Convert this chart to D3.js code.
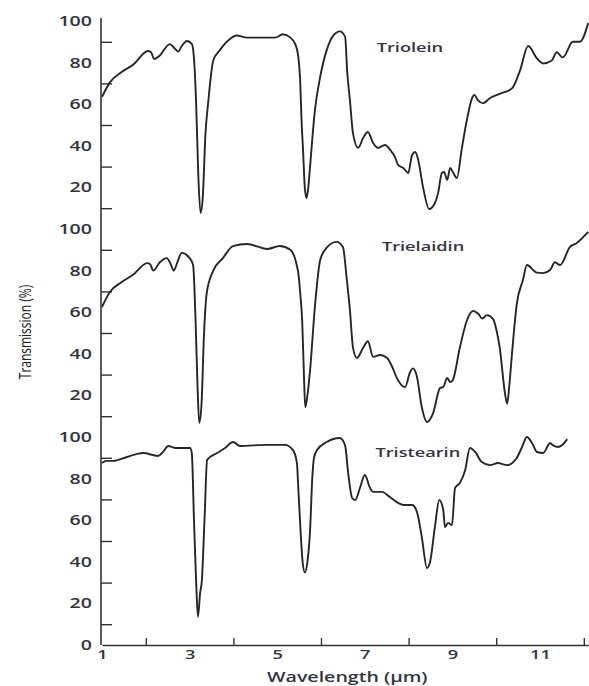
<!DOCTYPE html>
<html>
<head>
<meta charset="utf-8">
<script src="https://cdn.jsdelivr.net/npm/d3@7"></script>
<style>
  body { margin: 0; background: #fff; }
  svg { display: block; }
  text { font-family: "Open Sans", "Noto Sans", sans-serif; fill: #34343f; }
</style>
</head>
<body>
<div id="chart"></div>
<script>
// spectra: [wavelength (um), transmission (%)]
var triolein = [[1.0,63.5],[1.18,70.5],[1.45,75.5],[1.71,79],[2.05,85.6],[2.12,85],[2.19,81.7],[2.3,83],[2.55,88.9],[2.65,87],[2.74,85.3],[2.82,88],[2.94,90.4],[3.05,89],[3.1,82],[3.15,60],[3.2,25],[3.25,7.7],[3.3,15],[3.36,45],[3.43,62],[3.54,81],[3.69,86],[3.9,91],[4.08,93],[4.31,92],[4.76,92],[4.95,92],[5.13,93.6],[5.3,92],[5.41,89],[5.48,83],[5.52,73],[5.56,50],[5.59,38],[5.63,20],[5.67,14.8],[5.71,20],[5.75,30],[5.86,57],[5.98,73],[6.13,86],[6.28,93],[6.43,95],[6.55,92.5],[6.6,75],[6.66,62],[6.73,46],[6.85,39],[6.96,43.7],[7.07,46.6],[7.19,41.3],[7.3,39],[7.46,40.4],[7.58,38],[7.69,34.6],[7.76,30.8],[7.88,29.3],[7.99,26.9],[8.08,35.6],[8.15,37],[8.21,34],[8.33,20],[8.47,9.6],[8.6,12.5],[8.67,17],[8.76,26.9],[8.81,27.4],[8.88,23.6],[8.95,29.3],[9.01,27.4],[9.1,24.5],[9.22,39.4],[9.33,52.4],[9.45,63],[9.5,64.5],[9.58,62],[9.7,60.5],[9.86,63],[10.08,65],[10.36,67.6],[10.54,76],[10.73,88],[10.93,82],[11.07,79.6],[11.27,81],[11.38,85],[11.52,82.5],[11.75,90],[11.91,90],[12.1,99]];

var trielaidin = [[1.0,62.5],[1.18,69.7],[1.45,74.5],[1.71,78],[2.03,83.6],[2.1,83],[2.17,80],[2.32,84],[2.48,86],[2.57,83],[2.64,80],[2.72,84],[2.82,88.5],[3.0,86],[3.08,82.7],[3.13,60],[3.18,25],[3.22,6.7],[3.27,15],[3.33,50],[3.39,69],[3.54,80],[3.76,86],[3.99,91.8],[4.31,92.8],[4.77,90.4],[5.06,91.8],[5.3,90],[5.48,79],[5.53,68],[5.57,56],[5.61,30],[5.64,14.4],[5.69,20],[5.75,32],[5.86,62.5],[5.98,85],[6.13,91],[6.36,93.8],[6.5,91.3],[6.59,75.5],[6.66,61],[6.73,43],[6.82,38],[6.96,42.8],[7.07,46],[7.19,38.5],[7.35,39.4],[7.51,38],[7.64,33],[7.73,28.4],[7.92,24],[8.03,31],[8.1,33],[8.19,29],[8.3,14.4],[8.42,7.2],[8.56,11.5],[8.72,23.6],[8.79,24],[8.88,28.4],[8.95,26.4],[9.01,27.4],[9.17,43],[9.33,56],[9.47,60.6],[9.6,59],[9.68,57],[9.79,58.6],[9.93,56.7],[10.02,50],[10.08,43],[10.2,21],[10.25,16],[10.3,25],[10.36,40],[10.47,64],[10.61,75.5],[10.7,82.7],[10.93,79],[11.07,78.8],[11.23,80.3],[11.34,84],[11.46,82.7],[11.68,91.3],[11.84,93.3],[12.1,98.6]];

var tristearin = [[1.0,87.5],[1.1,88.5],[1.25,88.5],[1.57,90.4],[1.94,92.3],[2.28,90.9],[2.4,93],[2.51,95.7],[2.67,94.7],[3.01,94.7],[3.05,92.3],[3.1,60],[3.15,30],[3.19,13.5],[3.24,25],[3.28,31],[3.34,60],[3.4,89],[3.63,92.3],[3.81,94.7],[3.99,97.6],[4.15,95.7],[4.77,96.2],[5.18,96.2],[5.36,93.7],[5.45,87.5],[5.48,76],[5.52,60],[5.58,40],[5.63,35],[5.69,40],[5.75,55],[5.8,80],[5.84,90],[5.91,93.7],[6.13,97.6],[6.43,99.5],[6.55,96],[6.62,82.7],[6.71,70.7],[6.78,69.7],[6.89,75.5],[7.0,81.7],[7.12,75.5],[7.19,73.6],[7.39,73.6],[7.58,71],[7.76,68.3],[7.88,67.3],[8.08,67.3],[8.19,64],[8.3,52],[8.42,37],[8.49,40],[8.6,56.7],[8.7,69.7],[8.79,65],[8.83,56.7],[8.9,58.7],[8.99,57.7],[9.06,75.5],[9.17,77.9],[9.29,84],[9.4,94.7],[9.52,92.8],[9.67,88],[9.86,86.5],[10.04,87.5],[10.25,86.5],[10.47,90],[10.59,95.2],[10.7,100],[10.82,97],[10.93,92.8],[11.07,92.3],[11.23,97],[11.3,96],[11.41,95.2],[11.5,96],[11.62,99]];

var names = ["Triolein", "Trielaidin", "Tristearin"];
var xTickMarks = [2, 4, 6, 8, 10, 12];
var xTickLabels = [1, 3, 5, 7, 9, 11];
var yTickMarks = [10, 30, 50, 70, 90];
var yTickLabels = [20, 40, 60, 80, 100];

var w = 589, h = 686,
    left = 102, right = 588.2,
    panelH = 208,
    bottoms = [229, 437, 645],
    sx = 1.4; // the printed figure is stretched sideways

var svg = d3.select("#chart").append("svg")
    .attr("width", w)
    .attr("height", h);

var x = d3.scaleLinear().domain([1, 12.1]).range([left, right]);

var spectra = [triolein, trielaidin, tristearin];
var labelAt = [[8.03, 87.5], [8.33, 91.8], [8.21, 92.8]];

spectra.forEach(function (data, i) {
    var y = d3.scaleLinear().domain([0, 100]).range([bottoms[i], bottoms[i] - panelH]);

    // inward ticks on the left axis
    var tickAxis = d3.axisRight(y).tickValues(yTickMarks).tickSize(11).tickFormat("");
    var g = svg.append("g")
        .attr("transform", "translate(" + (left - 1) + ",0)")
        .call(tickAxis);
    g.select(".domain").remove();
    g.selectAll("line").attr("stroke", "#333").attr("stroke-width", 1.4);

    var labels = i == 2 ? [0].concat(yTickLabels) : yTickLabels;
    var lab = svg.append("g")
        .attr("transform", "translate(" + (left - 1) + ",0)")
        .call(d3.axisLeft(y).tickValues(labels).tickSize(0).tickPadding(0));
    lab.select(".domain").remove();
    lab.selectAll("text")
        .attr("x", -9 / sx)
        .attr("transform", "scale(" + sx + ",1)")
        .style("font-size", "14px")
        .style("font-weight", 600)
        .style("fill", "#34343f");

    var line = d3.line()
        .x(function (d) { return x(d[0]); })
        .y(function (d) { return y(d[1]); })
        .curve(d3.curveMonotoneX);

    svg.append("path")
        .datum(data)
        .attr("fill", "none")
        .attr("stroke", "#262626")
        .attr("stroke-width", 1.9)
        .attr("stroke-linejoin", "round")
        .attr("d", line);

    svg.append("text")
        .attr("transform", "translate(" + x(labelAt[i][0]) + "," + y(labelAt[i][1]) + ") scale(" + sx + ",1)")
        .attr("text-anchor", "middle")
        .attr("dy", "0.35em")
        .style("font-size", "13px")
        .style("font-weight", 600)
        .text(names[i]);
});

// left axis line spanning all three panels
svg.append("line")
    .attr("x1", left - 1).attr("x2", left - 1)
    .attr("y1", bottoms[0] - panelH - 3).attr("y2", bottoms[2])
    .attr("stroke", "#333").attr("stroke-width", 1.6);

// x axis: ticks point up, labels sit below
var xg = svg.append("g")
    .attr("transform", "translate(0," + bottoms[2] + ")")
    .call(d3.axisTop(x).tickValues(xTickMarks).tickSize(7).tickSizeOuter(0).tickFormat(""));
xg.select(".domain").attr("stroke", "#333").attr("stroke-width", 1.6);
xg.selectAll("line").attr("stroke", "#333").attr("stroke-width", 1.4);

var xl = svg.append("g")
    .attr("transform", "translate(0," + bottoms[2] + ")")
    .call(d3.axisBottom(x).tickValues(xTickLabels).tickSize(0).tickPadding(5));
xl.select(".domain").remove();
xl.selectAll("text")
    .attr("transform", "scale(" + sx + ",1)")
    .style("font-size", "13px")
    .style("font-weight", 600)
    .style("fill", "#34343f");

svg.append("text")
    .attr("transform", "translate(" + x(6.6) + ",677) scale(" + sx + ",1)")
    .attr("text-anchor", "middle")
    .attr("dy", "0.35em")
    .style("font-size", "14px")
    .style("font-weight", 600)
    .text("Wavelength (\u00b5m)");

svg.append("text")
    .attr("transform", "translate(25,332) scale(" + sx + ",1) rotate(-90)")
    .attr("text-anchor", "middle")
    .attr("dy", "0.35em")
    .style("font-size", "12px")
    .style("fill", "#222")
    .text("Transmission (%)");
</script>
</body>
</html>
